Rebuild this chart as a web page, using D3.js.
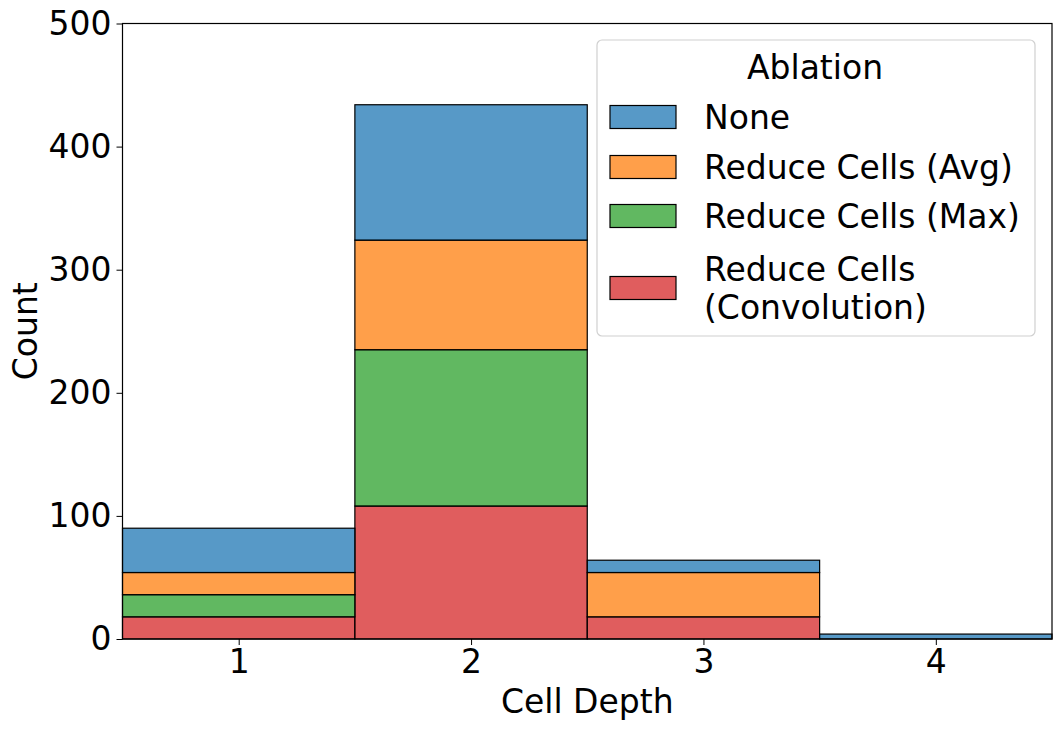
<!DOCTYPE html>
<html>
<head>
<meta charset="utf-8">
<script src="https://cdn.jsdelivr.net/npm/d3@7"></script>
<style>
  body { margin: 0; background: #fff; }
  text { font-family: "DejaVu Sans", sans-serif; fill: #000; }
</style>
</head>
<body>
<div id="chart"></div>
<script>
// cell depth bins and stacked counts per ablation
const depths = [1, 2, 3, 4];
const seriesNames = ['None', 'Reduce Cells (Avg)', 'Reduce Cells (Max)', 'Reduce Cells (Convolution)'];
const noneCounts = [36, 110, 10, 4];
const avgCounts = [18, 89, 36, 0];
const maxCounts = [18, 127, 0, 0];
const convCounts = [18, 108, 18, 0];
const yTicks = [0, 100, 200, 300, 400, 500];
const colors = ['#1f77b4', '#ff7f0e', '#2ca02c', '#d62728'];

const width = 1062;
const height = 730;
const margin = { top: 23.5, right: 10, bottom: 91, left: 122.5 };
const fontSize = 33;

const svg = d3.select('#chart').append('svg').attr('width', width).attr('height', height);

// rows for d3.stack; seaborn stacks the last hue at the bottom
const rows = depths.map((d, i) => ({
  depth: d,
  'None': noneCounts[i],
  'Reduce Cells (Avg)': avgCounts[i],
  'Reduce Cells (Max)': maxCounts[i],
  'Reduce Cells (Convolution)': convCounts[i]
}));
const stackKeys = seriesNames.slice().reverse();
const stacked = d3.stack().keys(stackKeys)(rows);

const x = d3.scaleLinear().domain([0.5, 4.5]).range([margin.left, width - margin.right]);
const y = d3.scaleLinear().domain([0, 500]).range([height - margin.bottom, margin.top]);
const color = d3.scaleOrdinal().domain(seriesNames).range(colors);

// bars
stacked.forEach((layer) => {
  svg.append('g')
    .selectAll('rect')
    .data(layer.filter((d) => d[1] - d[0] > 0))
    .enter()
    .append('rect')
    .attr('x', (d) => x(d.data.depth - 0.5))
    .attr('width', (d) => x(d.data.depth + 0.5) - x(d.data.depth - 0.5))
    .attr('y', (d) => y(d[1]))
    .attr('height', (d) => y(d[0]) - y(d[1]))
    .attr('fill', color(layer.key))
    .attr('fill-opacity', 0.75)
    .attr('stroke', '#000')
    .attr('stroke-width', 1.2);
});

// axes
const xAxis = svg.append('g')
  .attr('transform', `translate(0, ${height - margin.bottom})`)
  .call(d3.axisBottom(x).tickValues(depths).tickFormat(d3.format('d')).tickSize(6).tickPadding(5));
const yAxis = svg.append('g')
  .attr('transform', `translate(${margin.left}, 0)`)
  .call(d3.axisLeft(y).tickValues(yTicks).tickSize(6).tickPadding(5));

[xAxis, yAxis].forEach((g) => {
  g.select('.domain').remove();
  g.selectAll('line').attr('stroke', '#000').attr('stroke-width', 1);
  g.selectAll('text').style('font-size', fontSize + 'px').attr('font-family', null);
});

// frame
svg.append('rect')
  .attr('x', margin.left)
  .attr('y', margin.top)
  .attr('width', width - margin.right - margin.left)
  .attr('height', height - margin.bottom - margin.top)
  .attr('fill', 'none')
  .attr('stroke', '#000')
  .attr('stroke-width', 1.2);

// axis labels
svg.append('text')
  .attr('x', (margin.left + width - margin.right) / 2)
  .attr('y', 713)
  .attr('text-anchor', 'middle')
  .style('font-size', fontSize + 'px')
  .text('Cell Depth');

svg.append('text')
  .attr('transform', `translate(37, ${(margin.top + height - margin.bottom) / 2}) rotate(-90)`)
  .attr('text-anchor', 'middle')
  .style('font-size', fontSize + 'px')
  .text('Count');

// legend
const legend = svg.append('g').attr('transform', 'translate(597, 40)');
legend.append('rect')
  .attr('width', 438)
  .attr('height', 296)
  .attr('rx', 5)
  .attr('fill', '#fff')
  .attr('fill-opacity', 0.8)
  .attr('stroke', '#d0d0d0')
  .attr('stroke-width', 1.2);

legend.append('text')
  .attr('x', 218)
  .attr('y', 39)
  .attr('text-anchor', 'middle')
  .style('font-size', fontSize + 'px')
  .text('Ablation');

const legendRows = [
  { name: 'None', lines: ['None'], cy: 77 },
  { name: 'Reduce Cells (Avg)', lines: ['Reduce Cells (Avg)'], cy: 127 },
  { name: 'Reduce Cells (Max)', lines: ['Reduce Cells (Max)'], cy: 176 },
  { name: 'Reduce Cells (Convolution)', lines: ['Reduce Cells', '(Convolution)'], cy: 248 }
];
const lineGap = 38;

legendRows.forEach((r) => {
  legend.append('rect')
    .attr('x', 13)
    .attr('y', r.cy - 11.5)
    .attr('width', 66)
    .attr('height', 23)
    .attr('fill', color(r.name))
    .attr('fill-opacity', 0.75)
    .attr('stroke', '#000')
    .attr('stroke-width', 1.2);
  const t = legend.append('text')
    .attr('x', 107)
    .style('font-size', fontSize + 'px');
  const first = r.cy - ((r.lines.length - 1) * lineGap) / 2;
  r.lines.forEach((line, i) => {
    t.append('tspan')
      .attr('x', 107)
      .attr('y', first + i * lineGap)
      .attr('dy', '0.35em')
      .text(line);
  });
});
</script>
</body>
</html>
